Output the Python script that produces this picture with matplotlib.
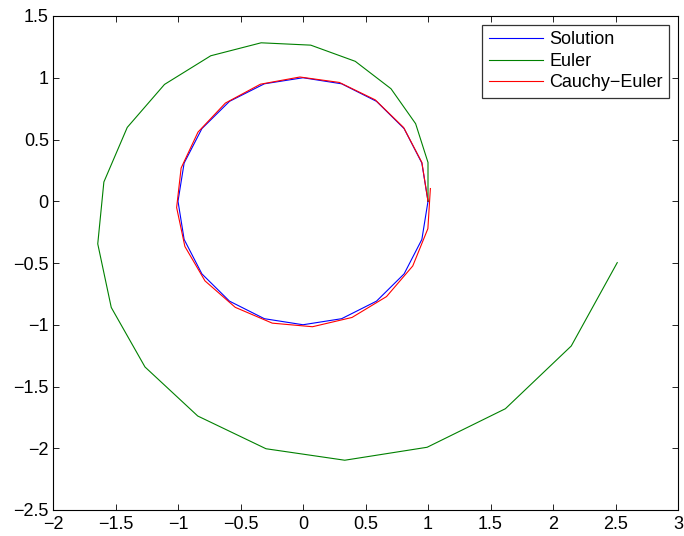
import matplotlib

matplotlib.use("Agg")
import matplotlib.pyplot as plt

plt.rcParams["font.family"] = ["Liberation Sans", "DejaVu Sans"]

# values (21 points each, one full turn)
solution_x = [1.0, 0.951, 0.809, 0.588, 0.309, 0.0, -0.309, -0.588, -0.809, -0.951, -1.0,
              -0.951, -0.809, -0.588, -0.309, 0.0, 0.309, 0.588, 0.809, 0.951, 1.0]
solution_y = [0.0, 0.309, 0.588, 0.809, 0.951, 1.0, 0.951, 0.809, 0.588, 0.309, 0.0,
              -0.309, -0.588, -0.809, -0.951, -1.0, -0.951, -0.809, -0.588, -0.309, 0.0]

euler_x = [1.0, 1.0, 0.901, 0.704, 0.418, 0.062, -0.335, -0.738, -1.108, -1.406, -1.593,
           -1.642, -1.534, -1.264, -0.842, -0.296, 0.334, 0.993, 1.619, 2.146, 2.514]
euler_y = [0.0, 0.314, 0.628, 0.911, 1.133, 1.264, 1.283, 1.178, 0.946, 0.598, 0.156,
           -0.345, -0.860, -1.342, -1.739, -2.004, -2.097, -1.992, -1.680, -1.172, -0.497]

cauchy_x = [1.0, 0.951, 0.805, 0.578, 0.291, -0.025, -0.340, -0.621, -0.840, -0.975, -1.011,
            -0.945, -0.784, -0.542, -0.246, 0.076, 0.392, 0.668, 0.878, 0.999, 1.019]
cauchy_y = [0.0, 0.314, 0.597, 0.821, 0.962, 1.006, 0.948, 0.795, 0.560, 0.269, -0.051,
            -0.366, -0.645, -0.859, -0.987, -1.016, -0.941, -0.772, -0.524, -0.222, 0.103]

x_ticks = [-2, -1.5, -1, -0.5, 0, 0.5, 1, 1.5, 2, 2.5, 3]
x_labels = ["\u22122", "\u22121.5", "\u22121", "\u22120.5", "0", "0.5", "1", "1.5", "2", "2.5", "3"]
y_ticks = [-2.5, -2, -1.5, -1, -0.5, 0, 0.5, 1, 1.5]
y_labels = ["\u22122.5", "\u22122", "\u22121.5", "\u22121", "\u22120.5", "0", "0.5", "1", "1.5"]

W, H = 684, 536
fig = plt.figure(figsize=(W / 100, H / 100), dpi=100)
ax = fig.add_axes([53 / W, 1 - 510 / H, (678 - 53) / W, (510 - 16) / H])

ax.plot(solution_x, solution_y, color="#0000ff", lw=0.8, label="Solution")
ax.plot(euler_x, euler_y, color="#008000", lw=0.8, label="Euler")
ax.plot(cauchy_x, cauchy_y, color="#ff0000", lw=0.8, label="Cauchy\u2212Euler")

ax.set_xlim(-2, 3)
ax.set_ylim(-2.5, 1.5)
ax.set_xticks(x_ticks)
ax.set_xticklabels(x_labels)
ax.set_yticks(y_ticks)
ax.set_yticklabels(y_labels)
ax.tick_params(direction="in", length=4, width=0.6, labelsize=13,
               top=True, right=True)
ax.tick_params(axis="y", pad=3)
ax.tick_params(axis="x", pad=4)
for s in ax.spines.values():
    s.set_linewidth(0.8)

leg = ax.legend(loc="upper right", fontsize=13, frameon=True, fancybox=False,
                edgecolor="black", handlelength=3.0, handletextpad=0.35,
                labelspacing=0.25, borderpad=0.35, borderaxespad=0.5)
leg.get_frame().set_linewidth(0.9)

fig.savefig("out.png", dpi=100)
